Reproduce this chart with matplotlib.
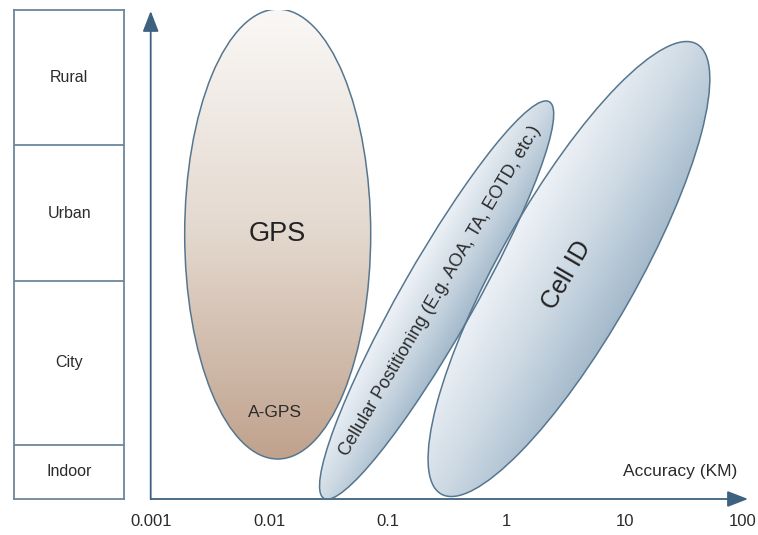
import numpy as np
import matplotlib
matplotlib.use('Agg')
import matplotlib.pyplot as plt
from matplotlib.patches import Ellipse
from matplotlib.colors import LinearSegmentedColormap

plt.rcParams['font.family'] = ['Liberation Sans', 'DejaVu Sans']

# environment bands (bottom to top), in chart height units
environments = ['Indoor', 'City', 'Urban', 'Rural']
env_bounds = [0, 0.456, 1.84, 2.987, 4.127]

# accuracy axis (KM, log scale)
tick_values = [0.001, 0.01, 0.1, 1, 10, 100]
tick_labels = ['0.001', '0.01', '0.1', '1', '10', '100']
x_max_km = 110

# technologies: ellipse centre (km, height), size (decades, height units), tilt
techs = ['GPS', 'Cellular', 'Cell ID']
tech_center_km = [0.0118, 0.259, 3.39]
tech_center_env = [2.236, 1.679, 1.941]
tech_span_decades = [1.57, 3.85, 4.368]
tech_span_env = [3.797, 0.62, 1.151]
tech_angle = [0, 60.4, 60.4]

axis_col = '#3f6180'
edge_col = '#56768f'
text_col = '#2b2b2b'

fig = plt.figure(figsize=(7.58, 5.35), dpi=100)
W, H = 758, 535

# left panel with environment boxes
axl = fig.add_axes([14.3 / W, 36 / H, (124 - 14.3) / W, 489 / H])
axl.set_xlim(0, 1)
axl.set_ylim(env_bounds[0], env_bounds[-1])
axl.set_xticks([])
axl.set_yticks([])
for s in axl.spines.values():
    s.set_color('#6d869b')
    s.set_linewidth(1.3)
for b in env_bounds[1:-1]:
    axl.axhline(b, color='#6d869b', lw=1.3)
for i, name in enumerate(environments):
    axl.text(0.5, (env_bounds[i] + env_bounds[i + 1]) / 2, name, ha='center', va='center',
             fontsize=11.5, color=text_col)

# main chart
ax = fig.add_axes([150.7 / W, 36 / H, 597.3 / W, 489 / H])
xlo, xhi = np.log10(tick_values[0]), np.log10(x_max_km)
ax.set_xlim(xlo, xhi)
ax.set_ylim(env_bounds[0], env_bounds[-1])
for s in ax.spines.values():
    s.set_visible(False)
ax.set_yticks([])
ax.set_xticks(np.log10(tick_values))
ax.set_xticklabels(tick_labels, fontsize=12, color=text_col)
ax.tick_params(axis='x', length=0, pad=11)

arrow = dict(arrowstyle='-|>,head_length=0.9,head_width=0.35', color=axis_col, lw=1.3,
             shrinkA=0, shrinkB=0, mutation_scale=14)
ax.annotate('', xy=(1, 0), xytext=(0, 0), xycoords='axes fraction', arrowprops=arrow)
ax.annotate('', xy=(0, 0.998), xytext=(0, 0), xycoords='axes fraction', arrowprops=arrow)

brown = LinearSegmentedColormap.from_list('brown', ['#faf8f6', '#e3d8ce', '#c0a28d'])
blue = LinearSegmentedColormap.from_list('blue', ['#eef2f7', '#cdd9e3', '#a3b9cb'])

gx = np.linspace(xlo, xhi, 600)
gy = np.linspace(env_bounds[0], env_bounds[-1], 500)
GX, GY = np.meshgrid(gx, gy)

for i, t in enumerate(techs):
    cx = np.log10(tech_center_km[i])
    cy = tech_center_env[i]
    w, h, ang = tech_span_decades[i], tech_span_env[i], tech_angle[i]
    el = Ellipse((cx, cy), w, h, angle=ang, facecolor='none', edgecolor=edge_col, lw=1.1, zorder=3)
    ax.add_patch(el)
    if ang == 0:
        val = np.clip((cy + h / 2 - GY) / h, 0, 1)
        cmap = brown
    else:
        th = np.radians(ang)
        px, py = np.sin(th), -np.cos(th)
        val = np.clip(((GX - cx) * px + (GY - cy) * py) / (h / 2) * 0.5 + 0.5, 0, 1)
        cmap = blue
    im = ax.imshow(val, extent=[xlo, xhi, env_bounds[0], env_bounds[-1]], origin='lower',
                   cmap=cmap, vmin=0, vmax=1, aspect='auto', zorder=2, interpolation='bilinear')
    im.set_clip_path(el)

ax.set_xlim(xlo, xhi)
ax.set_ylim(env_bounds[0], env_bounds[-1])

ax.text(np.log10(tech_center_km[0]), tech_center_env[0], 'GPS', ha='center', va='center',
        fontsize=19.5, color='#222222', zorder=4)
ax.text(np.log10(tech_center_km[0]) - 0.02, 0.726, 'A-GPS', ha='center', va='center',
        fontsize=12.5, color=text_col, zorder=4)
ax.text(-0.559, 1.755, 'Cellular Postitioning (E.g. AOA, TA, EOTD, etc.)', ha='center',
        va='center', rotation=59.5, rotation_mode='anchor', fontsize=13, color=text_col, zorder=4)
ax.text(0.511, 1.89, 'Cell ID', ha='center', va='center', rotation=60, rotation_mode='anchor',
        fontsize=18, color='#222222', zorder=4)
ax.text(1.467, 0.23, 'Accuracy (KM)', ha='center', va='center', fontsize=12.5, color=text_col,
        zorder=4)

fig.savefig('out.png', dpi=100)
